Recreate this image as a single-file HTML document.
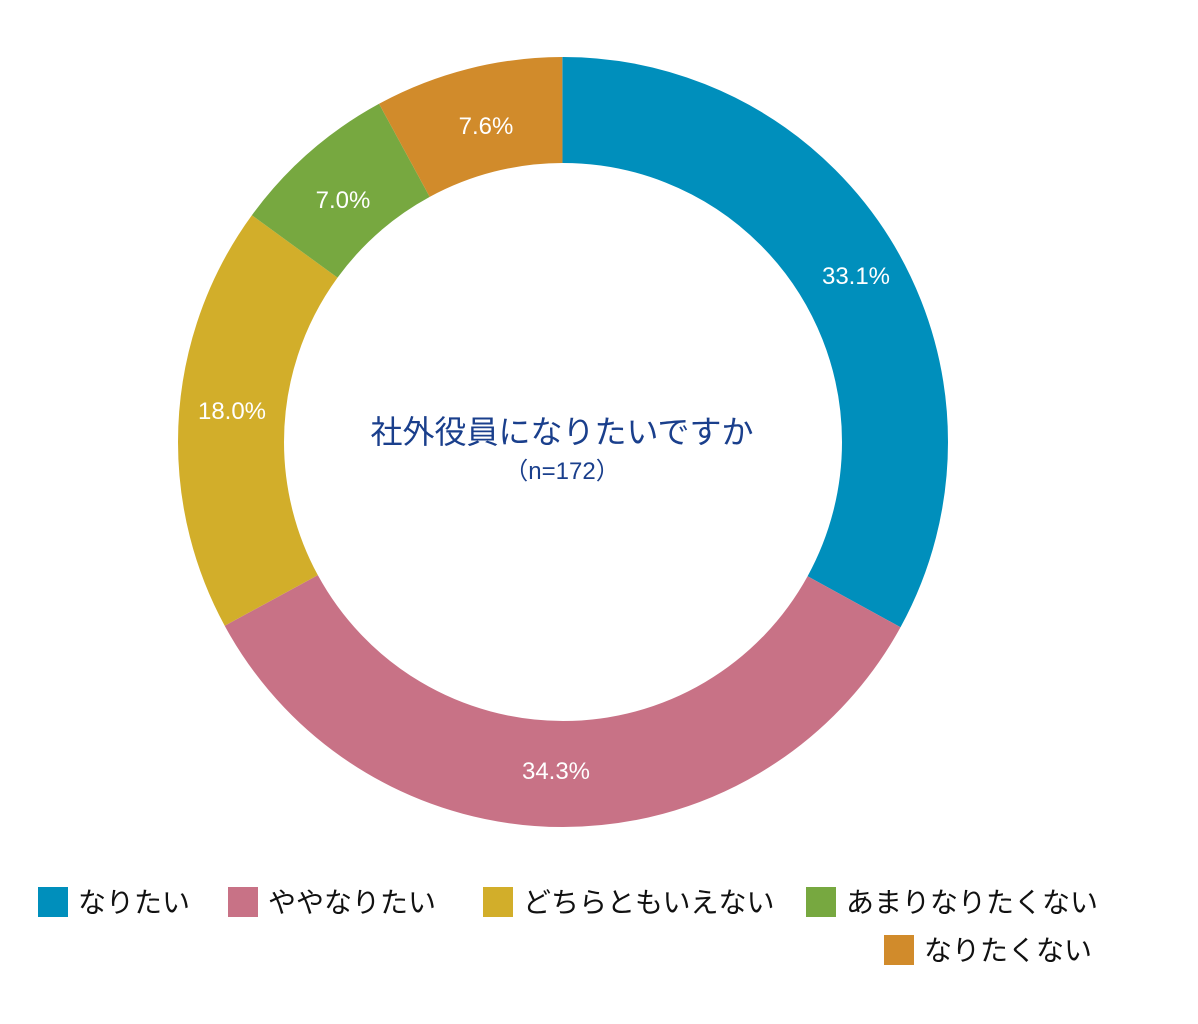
<!DOCTYPE html>
<html><head><meta charset="utf-8"><style>
html,body{margin:0;padding:0;background:#fff;width:1198px;height:1024px;overflow:hidden}
svg{display:block}
</style></head><body>
<svg width="1198" height="1024" viewBox="0 0 1198 1024" xmlns="http://www.w3.org/2000/svg">
<g transform="rotate(-90 563 442)" fill="none" stroke-width="106">
<circle cx="563" cy="442" r="332" pathLength="100" stroke="#008fbc" stroke-dasharray="33.0 67.0" stroke-dashoffset="0"/>
<circle cx="563" cy="442" r="332" pathLength="100" stroke="#c87286" stroke-dasharray="34.1 65.9" stroke-dashoffset="-33.0"/>
<circle cx="563" cy="442" r="332" pathLength="100" stroke="#d2ae2a" stroke-dasharray="17.95 82.05" stroke-dashoffset="-67.1"/>
<circle cx="563" cy="442" r="332" pathLength="100" stroke="#77a840" stroke-dasharray="7.05 92.95" stroke-dashoffset="-85.05"/>
<circle cx="563" cy="442" r="332" pathLength="100" stroke="#d18b2b" stroke-dasharray="7.9 92.1" stroke-dashoffset="-92.1"/>
</g>
<g font-family="Liberation Sans, sans-serif" font-size="24" fill="#fff" text-anchor="middle">
<text x="856" y="284">33.1%</text>
<text x="556" y="779">34.3%</text>
<text x="232" y="419">18.0%</text>
<text x="343" y="208">7.0%</text>
<text x="486" y="134">7.6%</text>
</g>
<g font-family="Liberation Sans, 'Noto Sans CJK JP', sans-serif" fill="#1a3f8c" text-anchor="middle">
<text x="562" y="443" font-size="32">社外役員になりたいですか</text>
<text x="562" y="479" font-size="24">（n=172）</text>
</g>
<g font-family="Liberation Sans, 'Noto Sans CJK JP', sans-serif" font-size="28" fill="#111">
<rect x="38" y="887" width="30" height="30" fill="#008fbc"/><text x="78" y="912">なりたい</text>
<rect x="228" y="887" width="30" height="30" fill="#c87286"/><text x="268" y="912">ややなりたい</text>
<rect x="483" y="887" width="30" height="30" fill="#d2ae2a"/><text x="523" y="912">どちらともいえない</text>
<rect x="806" y="887" width="30" height="30" fill="#77a840"/><text x="846" y="912">あまりなりたくない</text>
<rect x="884" y="935" width="30" height="30" fill="#d18b2b"/><text x="924" y="960">なりたくない</text>
</g>
</svg>
</body></html>
